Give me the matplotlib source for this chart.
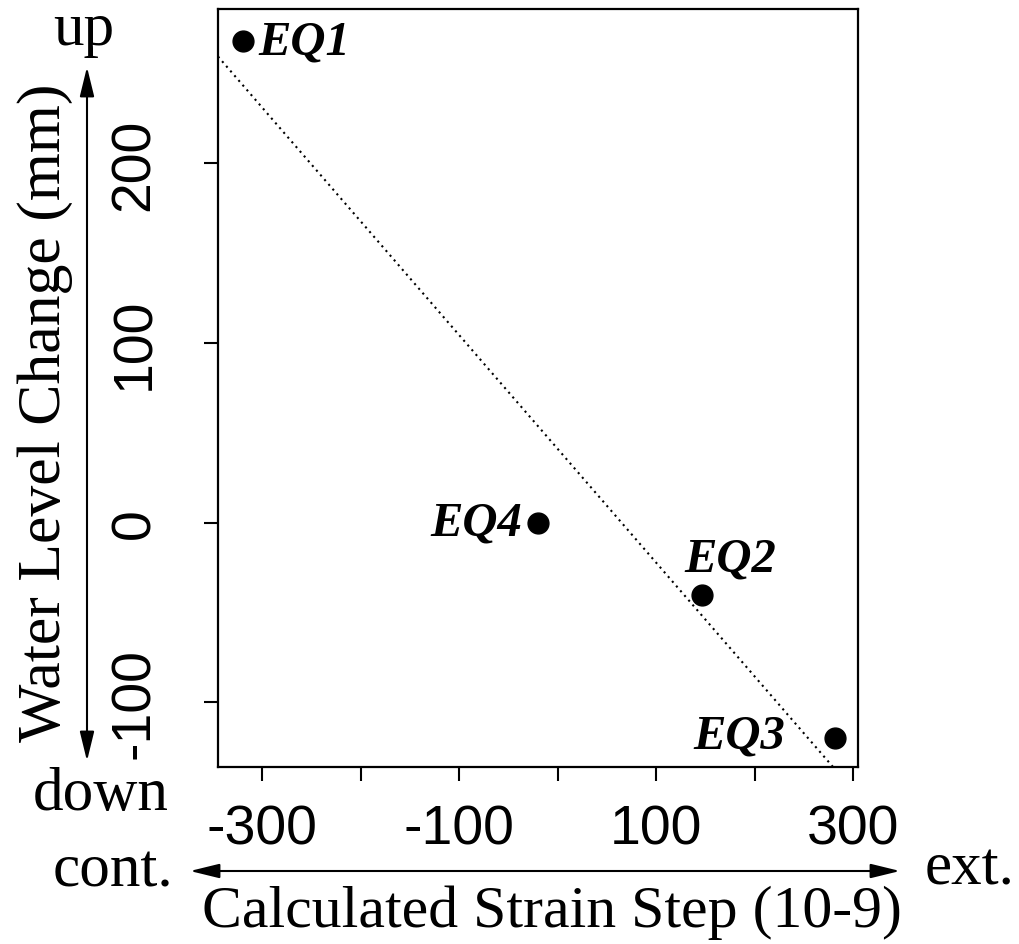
import matplotlib
matplotlib.use("Agg")
import matplotlib.pyplot as plt
from matplotlib.patches import FancyArrowPatch
import numpy as np

# strain step (10-9) vs water level change (mm), four earthquakes
events = ["EQ1", "EQ2", "EQ3", "EQ4"]
strain = [-320, 147, 282, -20]
water = [268, -40, -120, 0]

x_ticks = [-300, -200, -100, 0, 100, 200, 300]
x_labels = ["-300", "", "-100", "", "100", "", "300"]
y_ticks = [-100, 0, 100, 200]

SERIF = "Liberation Serif"
SANS = "Liberation Sans"

W, H = 1020, 945
fig = plt.figure(figsize=(W / 100, H / 100), dpi=100)
ax = fig.add_axes([218 / W, 1 - 768 / H, 640 / W, 758 / H])

ax.plot(strain, water, "o", color="black", markersize=15)

# least squares line, dotted
m, b = np.polyfit(strain, water, 1)
ax.axline((0, b), slope=m, color="black", lw=1.5, ls=(0, (1.0, 2.0)))

# label offsets in points (dx, dy, ha)
offs = {"EQ1": (11, -8.5, "left"), "EQ2": (20, 17, "center"),
        "EQ3": (-36, -7, "right"), "EQ4": (-11, -8.5, "right")}
for name, xv, yv in zip(events, strain, water):
    dx, dy, ha = offs[name]
    ax.annotate(name, (xv, yv), xytext=(dx, dy), textcoords="offset points",
                ha=ha, va="baseline", fontsize=35, fontfamily=SERIF,
                fontweight="bold", fontstyle="italic")

ax.set_xlim(-345, 305)
ax.set_ylim(-136, 286)
ax.set_xticks(x_ticks)
ax.set_xticklabels(x_labels)
ax.set_yticks(y_ticks)
ax.set_yticklabels([str(v) for v in y_ticks], rotation=90, va="center")
for lab in ax.get_xticklabels() + ax.get_yticklabels():
    lab.set_fontfamily(SANS)
    lab.set_fontsize(40)
ax.tick_params(axis="both", direction="out", length=10, width=1.5)
ax.tick_params(axis="x", pad=16)
ax.tick_params(axis="y", pad=31)
for sp in ax.spines.values():
    sp.set_linewidth(1.6)


def fx(px):
    return px / W


def fy(py):
    return 1 - py / H


def arrow(p0, p1):
    fig.add_artist(FancyArrowPatch((fx(p0[0]), fy(p0[1])), (fx(p1[0]), fy(p1[1])),
                                   transform=fig.transFigure,
                                   arrowstyle="<|-|>,head_length=0.9,head_width=0.22",
                                   mutation_scale=20, lw=1.5, color="black",
                                   shrinkA=0, shrinkB=0))


arrow((87, 762), (87, 68))
arrow((190, 872), (900, 872))

fig.text(fx(84), fy(45), "up", ha="center", va="baseline", fontsize=44, fontfamily=SERIF)
fig.text(fx(101), fy(810), "down", ha="center", va="baseline", fontsize=44, fontfamily=SERIF)
fig.text(fx(173), fy(887), "cont.", ha="right", va="baseline", fontsize=44, fontfamily=SERIF)
fig.text(fx(925), fy(885), "ext.", ha="left", va="baseline", fontsize=44, fontfamily=SERIF)
fig.text(fx(552), fy(927), "Calculated Strain Step (10-9)", ha="center", va="baseline",
         fontsize=43, fontfamily=SERIF)
fig.text(fx(45), fy(413), "Water Level Change (mm)", ha="center", va="center",
         rotation=90, fontsize=44.5, fontfamily=SERIF)

fig.savefig("out.png", dpi=100)
